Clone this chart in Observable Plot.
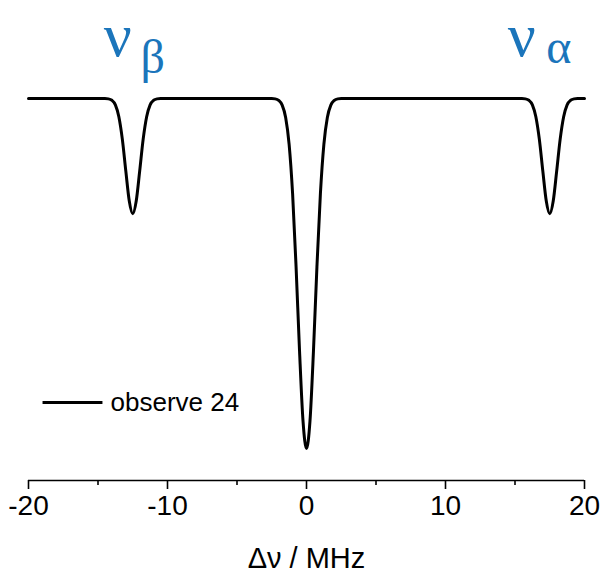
<!DOCTYPE html>
<html>
<head>
<meta charset="utf-8">
<script src="https://cdn.jsdelivr.net/npm/d3@7"></script>
<script src="https://cdn.jsdelivr.net/npm/@observablehq/plot@0.6"></script>
<style>
  html, body { margin: 0; padding: 0; background: #fff; }
</style>
</head>
<body>
<div id="chart"></div>
<script>
// Spectrum trace (Δν in MHz, normalized signal)
const freq = [-20, -14.5, -14.25, -14, -13.75, -13.5, -13.25, -13, -12.75, -12.5, -12.25, -12, -11.75, -11.5, -11.25, -11, -10.75, -10.5,
  -2.5, -2.25, -2, -1.75, -1.5, -1.25, -1, -0.75, -0.5, -0.25, 0, 0.25, 0.5, 0.75, 1, 1.25, 1.5, 1.75, 2, 2.25, 2.5,
  15.5, 15.75, 16, 16.25, 16.5, 16.75, 17, 17.25, 17.5, 17.75, 18, 18.25, 18.5, 18.75, 19, 19.25, 19.5, 20];
const signal = [1, 1, 0.999, 0.995, 0.982, 0.948, 0.884, 0.793, 0.707, 0.671, 0.707, 0.793, 0.884, 0.948, 0.982, 0.995, 0.999, 1,
  1, 0.999, 0.9945, 0.981, 0.946, 0.869, 0.728, 0.519, 0.278, 0.078, 0, 0.078, 0.278, 0.519, 0.728, 0.869, 0.946, 0.981, 0.9945, 0.999, 1,
  1, 0.999, 0.995, 0.982, 0.948, 0.884, 0.793, 0.707, 0.671, 0.707, 0.793, 0.884, 0.948, 0.982, 0.995, 0.999, 1, 1];

const majorTicks = [-20, -10, 0, 10, 20];
const minorTicks = [-15, -5, 5, 15];
const peakFreqs = [-12.5, 17.5];
const peakSymbols = ["ν", "ν"];
const peakSubs = ["β", "α"];
const seriesName = "observe 24";
const axisTitle = "Δν / MHz";

const trace = freq.map((f, i) => ({f, s: signal[i]}));
const yMin = -0.0914, yMax = 1.28;
const blue = "#1b75bb";
const serif = "Liberation Serif, Times New Roman, serif";

const chart = Plot.plot({
  width: 603,
  height: 576,
  marginLeft: 28,
  marginRight: 19,
  marginTop: 0,
  marginBottom: 96,
  style: {fontFamily: "Liberation Sans, Arial, sans-serif", background: "#fff", overflow: "visible"},
  x: {domain: [-20, 20]},
  y: {domain: [yMin, yMax], axis: null},
  marks: [
    Plot.ruleY([yMin], {stroke: "#000", strokeWidth: 1.6}),
    Plot.axisX({ticks: majorTicks, tickSize: 9, tickPadding: 6, fontSize: 28, strokeWidth: 1.6, label: null, tickFormat: d => String(d)}),
    Plot.axisX({ticks: minorTicks, tickSize: 5, strokeWidth: 1.6, text: null, label: null}),
    Plot.text([axisTitle], {frameAnchor: "bottom", dy: 78, lineAnchor: "middle", fontSize: 29, fill: "#000"}),
    Plot.line(trace, {x: "f", y: "s", curve: "monotone-x", stroke: "#000", strokeWidth: 3}),
    // peak labels
    Plot.text([0], {x: () => peakFreqs[0], y: () => 1.1794, text: () => peakSymbols[0], dx: -15, fontSize: 62, fontFamily: serif, fill: blue, lineAnchor: "middle"}),
    Plot.text([0], {x: () => peakFreqs[0], y: () => 1.118, text: () => peakSubs[0], dx: 20, fontSize: 48, fontFamily: serif, fill: blue, lineAnchor: "middle"}),
    Plot.text([0], {x: () => peakFreqs[1], y: () => 1.1794, text: () => peakSymbols[1], dx: -28, fontSize: 62, fontFamily: serif, fill: blue, lineAnchor: "middle"}),
    Plot.text([0], {x: () => peakFreqs[1], y: () => 1.144, text: () => peakSubs[1], dx: 9, fontSize: 48, fontFamily: serif, fill: blue, lineAnchor: "middle"}),
    // legend
    Plot.link([0], {x1: () => -18.99, x2: () => -14.68, y1: () => 0.1315, y2: () => 0.1315, stroke: "#000", strokeWidth: 3}),
    Plot.text([seriesName], {x: () => -14.1, y: () => 0.1315, textAnchor: "start", lineAnchor: "middle", fontSize: 26, fill: "#000"})
  ]
});
document.getElementById("chart").appendChild(chart);
</script>
</body>
</html>
